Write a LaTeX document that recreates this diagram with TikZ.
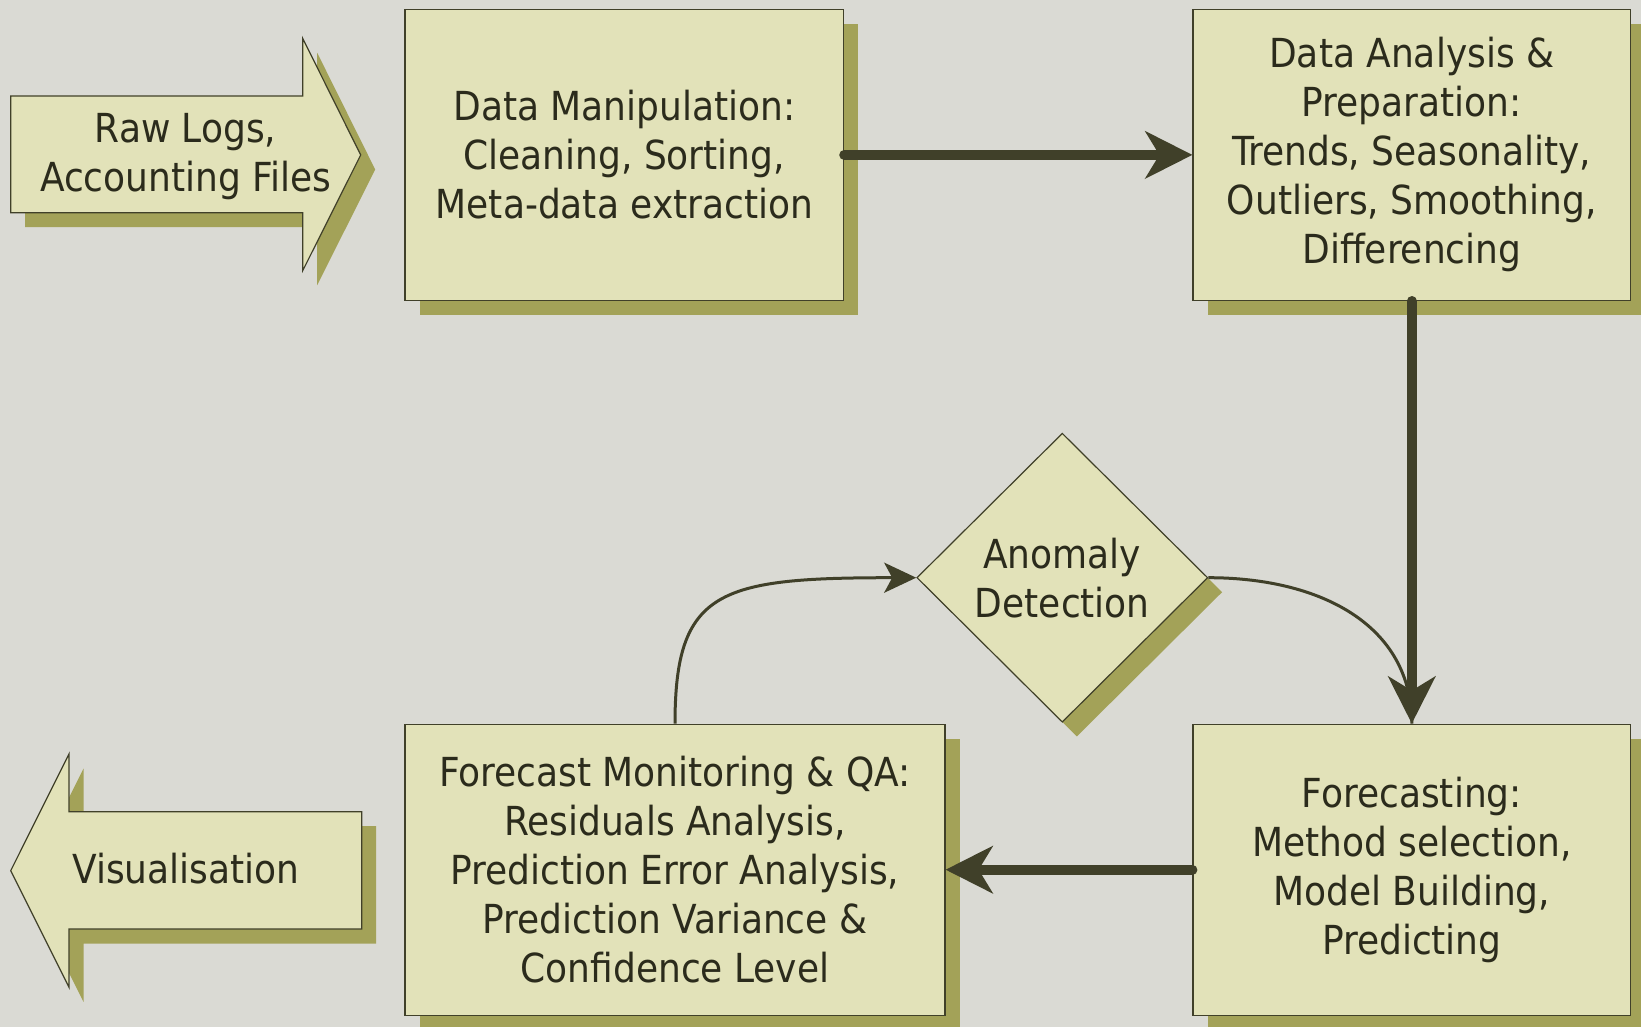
\documentclass[tikz,border=0pt]{standalone}
\usepackage{fontspec}
\setmainfont{DejaVu Sans Condensed}
\usetikzlibrary{arrows.meta,shapes.geometric,shadows}
\definecolor{bgc}{HTML}{DADAD4}
\definecolor{boxc}{HTML}{E2E2B9}
\definecolor{shc}{HTML}{A3A258}
\definecolor{linec}{HTML}{404029}
\definecolor{txtc}{HTML}{2B2B1C}
\begin{document}
\begin{tikzpicture}[x=1pt,y=-1pt,
  lbl/.style={text=txtc, align=center, inner sep=0pt, font=\fontsize{40}{49}\selectfont},
  box/.style={lbl, draw=linec, line width=1.2pt, fill=boxc,
    drop shadow={shadow xshift=14.5pt, shadow yshift=-14.5pt, fill=shc, opacity=1}},
  bigarrow/.style={draw=linec, line width=10pt, line cap=round,
    -{Stealth[length=47pt,width=47pt,inset=14pt]}},
  thinarrow/.style={draw=linec, line width=3pt,
    -{Stealth[length=32pt,width=30pt,inset=8pt]}},
  thinline/.style={draw=linec, line width=3pt},
  shapeedge/.style={draw=linec, line width=1.2pt, fill=boxc},
  shapeshadow/.style={fill=shc}
]
\useasboundingbox (0,0) rectangle (1641,1027);
\fill[bgc] (0,0) rectangle (1641,1027);

% Raw Logs arrow
\fill[shapeshadow, shift={(14.5,14.5)}] (10.7,96) -- (302.7,96) -- (302.7,38.3) -- (360.7,155) -- (302.7,270.7) -- (302.7,212.7) -- (10.7,212.7) -- cycle;
\path[shapeedge] (10.7,96) -- (302.7,96) -- (302.7,38.3) -- (360.7,155) -- (302.7,270.7) -- (302.7,212.7) -- (10.7,212.7) -- cycle;
\node[lbl] (raw) at (185.7,157) {Raw Logs,\\Accounting Files};

% Visualisation arrow
\fill[shapeshadow, shift={(14.5,14.5)}] (361.7,811.7) -- (69,811.7) -- (69,754) -- (10.7,870.7) -- (69,987.3) -- (69,929) -- (361.7,929) -- cycle;
\path[shapeedge] (361.7,811.7) -- (69,811.7) -- (69,754) -- (10.7,870.7) -- (69,987.3) -- (69,929) -- (361.7,929) -- cycle;
\node[lbl] (vis) at (186,869) {Visualisation};

% Boxes
\node[box, minimum width=438.6pt, minimum height=291pt] (dm) at (624.3,154.9)
  {Data Manipulation:\\Cleaning, Sorting,\\Meta-data extraction};
\node[box, minimum width=437.6pt, minimum height=291pt] (da) at (1411.8,154.9)
  {Data Analysis \&\\Preparation:\\Trends, Seasonality,\\Outliers, Smoothing,\\Differencing};
\node[box, minimum width=437.6pt, minimum height=291pt] (fc) at (1411.8,869.7)
  {Forecasting:\\Method selection,\\Model Building,\\Predicting};
\node[box, minimum width=540pt, minimum height=291pt] (mon) at (675,869.7)
  {Forecast Monitoring \& QA:\\Residuals Analysis,\\Prediction Error Analysis,\\Prediction Variance \&\\Confidence Level};
\node[box, diamond, minimum width=291pt, minimum height=289pt] (anom) at (1062.3,577.7)
  {Anomaly\\Detection};

% Connectors
\draw[thinarrow] (mon.north) .. controls +(0,-134) and +(-197,0) .. (anom.west);
\draw[thinline] (anom.east) .. controls +(110,0) and +(0,-100) .. (fc.north);
\draw[bigarrow] (dm.east) -- (da.west);
\draw[bigarrow] (da.south) -- (fc.north);
\draw[bigarrow] (fc.west) -- (mon.east);
\end{tikzpicture}
\end{document}
